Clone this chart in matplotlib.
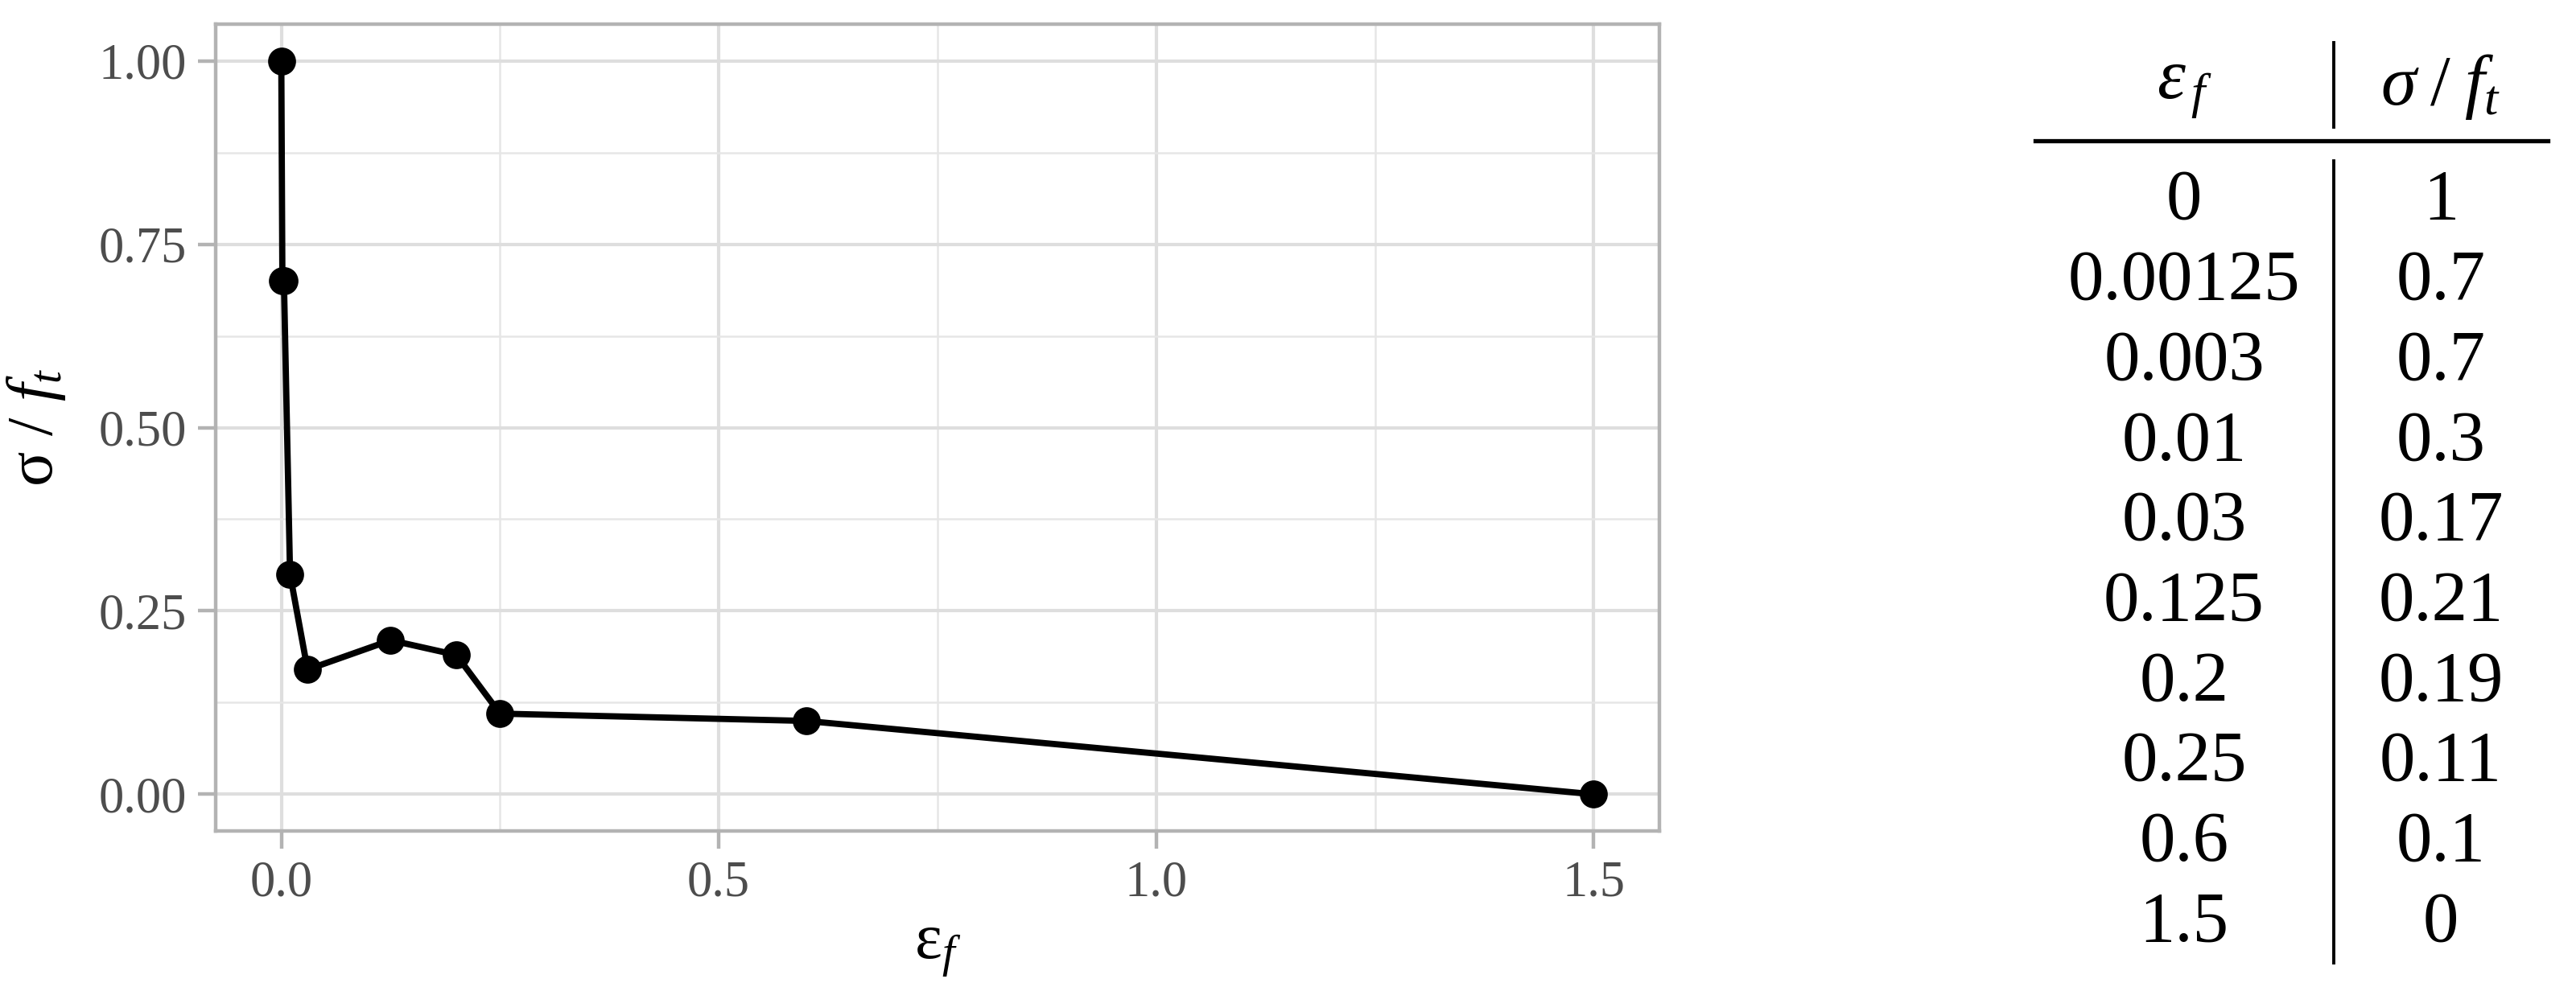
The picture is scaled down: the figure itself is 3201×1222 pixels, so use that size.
import matplotlib
matplotlib.use('Agg')
import matplotlib.pyplot as plt
import numpy as np

# softening curve data
eps_f = [0, 0.00125, 0.003, 0.01, 0.03, 0.125, 0.2, 0.25, 0.6, 1.5]
sig_ft = [1, 0.7, 0.7, 0.3, 0.17, 0.21, 0.19, 0.11, 0.1, 0]
x_ticks = [0.0, 0.5, 1.0, 1.5]
x_ticklabels = ['0.0', '0.5', '1.0', '1.5']
y_ticks = [0.0, 0.25, 0.5, 0.75, 1.0]
y_ticklabels = ['0.00', '0.25', '0.50', '0.75', '1.00']

plt.rcParams['font.family'] = ['Liberation Serif', 'DejaVu Serif']
plt.rcParams['mathtext.fontset'] = 'custom'
plt.rcParams['mathtext.rm'] = 'Liberation Serif'
plt.rcParams['mathtext.it'] = 'Liberation Serif:italic'
plt.rcParams['mathtext.bf'] = 'Liberation Serif:bold'

W, H = 3201, 1222
dpi = 200
fig = plt.figure(figsize=(W / dpi, H / dpi), dpi=dpi)

# plot panel (theme_light look)
ax = fig.add_axes([268 / W, 1 - 1033 / H, (2062 - 268) / W, (1033 - 30) / H])
ax.plot(eps_f, sig_ft, color='black', lw=2.8, marker='o', ms=11.5, zorder=3,
        solid_joinstyle='round')
ax.set_xlim(-0.075, 1.575)
ax.set_ylim(-0.05, 1.05)
ax.set_xticks(x_ticks)
ax.set_xticklabels(x_ticklabels)
ax.set_yticks(y_ticks)
ax.set_yticklabels(y_ticklabels)
ax.set_xticks([0.25, 0.75, 1.25], minor=True)
ax.set_yticks([0.125, 0.375, 0.625, 0.875], minor=True)
ax.grid(which='major', color='#dedede', lw=1.5, zorder=0)
ax.grid(which='minor', color='#e6e6e6', lw=0.9, zorder=0)
ax.tick_params(which='major', length=8, width=1.6, color='#b3b3b3',
               labelcolor='#4d4d4d', labelsize=22.5, pad=5)
ax.tick_params(which='minor', length=0)
for s in ax.spines.values():
    s.set_color('#b3b3b3')
    s.set_linewidth(1.6)
ax.set_axisbelow(True)
ax.set_xlabel('ε${}_{f}$', fontsize=29, labelpad=6)
ax.set_ylabel('σ / $f_t$', fontsize=29, labelpad=14)

# table on the right, drawn in pixel coordinates
tab = fig.add_axes([0, 0, 1, 1])
tab.set_xlim(0, W)
tab.set_ylim(H, 0)
tab.axis('off')
col_l, col_r, col_sep = 2714, 3033, 2900
tab.plot([2529, 3166], [175, 175], color='black', lw=1.9)
tab.plot([col_sep, col_sep], [53, 158], color='black', lw=1.4)
tab.plot([col_sep, col_sep], [200, 1197], color='black', lw=1.4)
tab.text(col_l, 108, r'$\varepsilon_{\,f}$', fontsize=32, ha='center', va='center')
tab.text(col_r, 108, r'$\sigma\;/\;f_t$', fontsize=32, ha='center', va='center')
row_y0, row_dy = 241, 99.7
for i in range(len(eps_f)):
    y = row_y0 + i * row_dy
    tab.text(col_l, y, '{:g}'.format(eps_f[i]), fontsize=32, ha='center', va='center_baseline')
    tab.text(col_r, y, '{:g}'.format(sig_ft[i]), fontsize=32, ha='center', va='center_baseline')

fig.savefig('out.png', dpi=dpi)
